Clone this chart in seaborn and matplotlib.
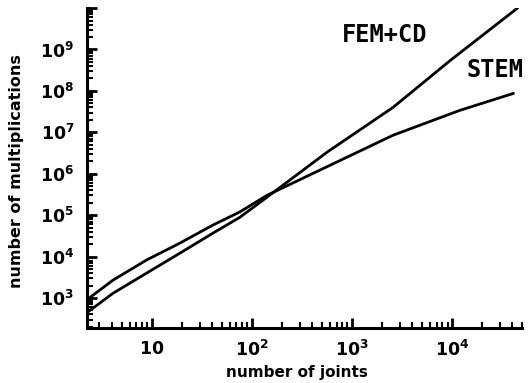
import math
import matplotlib
matplotlib.use("Agg")
import matplotlib.pyplot as plt
import matplotlib.ticker as mticker
import seaborn as sns
import pandas as pd

# values
joints_fem = [2.24, 4.1, 8.9, 19, 41, 76, 141, 562, 2570, 9550, 45000]
mults_fem = [440, 1.3e3, 4.0e3, 1.2e4, 3.7e4, 8.9e4, 2.7e5, 3.3e6, 4.0e7, 5.4e8, 1.0e10]

joints_stem = [2.24, 4.1, 8.9, 19, 41, 76, 141, 2570, 12000, 41000]
mults_stem = [900, 2.7e3, 8.3e3, 2.1e4, 5.8e4, 1.2e5, 3.0e5, 8.5e6, 3.4e7, 8.7e7]

df = pd.DataFrame({
    "joints": joints_fem + joints_stem,
    "mults": mults_fem + mults_stem,
    "method": ["FEM+CD"] * len(joints_fem) + ["STEM"] * len(joints_stem),
})

sns.set_style("ticks")
plt.rcParams["font.family"] = ["DejaVu Sans"]
plt.rcParams["mathtext.fontset"] = "dejavusans"
plt.rcParams["text.color"] = "black"
plt.rcParams["axes.labelcolor"] = "black"
plt.rcParams["xtick.color"] = "black"
plt.rcParams["ytick.color"] = "black"

fig = plt.figure(figsize=(5.29, 3.83), dpi=100)
ax = fig.add_axes([0.164, 0.144, 0.823, 0.835])

sns.lineplot(data=df, x="joints", y="mults", hue="method",
             palette=["black", "black"], linewidth=2.0, legend=False,
             sort=False, ax=ax)

ax.set_xscale("log")
ax.set_yscale("log")
ax.set_xlim(2.24, 5e4)
ax.set_ylim(190, 1e10)

sns.despine(ax=ax)
for s in ["left", "bottom"]:
    ax.spines[s].set_linewidth(2.2)
    ax.spines[s].set_color("black")

ax.xaxis.set_major_locator(mticker.FixedLocator([10, 100, 1000, 10000]))
ax.xaxis.set_minor_locator(mticker.LogLocator(base=10, subs=range(2, 10), numticks=20))
ax.yaxis.set_major_locator(mticker.FixedLocator([1e3, 1e4, 1e5, 1e6, 1e7, 1e8, 1e9, 1e10]))
ax.yaxis.set_minor_locator(mticker.LogLocator(base=10, subs=range(2, 10), numticks=20))


def xfmt(v, pos):
    e = int(round(math.log10(v)))
    return r"$\mathbf{10}$" if e == 1 else r"$\mathbf{10^{%d}}$" % e


def yfmt(v, pos):
    e = int(round(math.log10(v)))
    return "" if e > 9 else r"$\mathbf{10^{%d}}$" % e


ax.xaxis.set_major_formatter(mticker.FuncFormatter(xfmt))
ax.yaxis.set_major_formatter(mticker.FuncFormatter(yfmt))
ax.xaxis.set_minor_formatter(mticker.NullFormatter())
ax.yaxis.set_minor_formatter(mticker.NullFormatter())

ax.tick_params(which="major", direction="in", length=7, width=2.0,
               labelsize=12.5, pad=9, color="black", labelcolor="black")
ax.tick_params(which="minor", direction="in", length=4, width=1.5, color="black")

ax.set_xlabel("number of joints", fontsize=11, fontweight="bold")
ax.set_ylabel("number of multiplications", fontsize=11.5, fontweight="bold")
ax.xaxis.set_label_coords(0.483, -0.115)
ax.yaxis.set_label_coords(-0.143, 0.49)

fig.text(385 / 529, 1 - 35 / 383, "FEM+CD", family="DejaVu Sans Mono",
         fontsize=17, fontweight="bold", ha="center", va="center")
fig.text(466 / 529, 1 - 70 / 383, "STEM", family="DejaVu Sans Mono",
         fontsize=17, fontweight="bold", ha="left", va="center")

fig.savefig("out.png", dpi=100)
